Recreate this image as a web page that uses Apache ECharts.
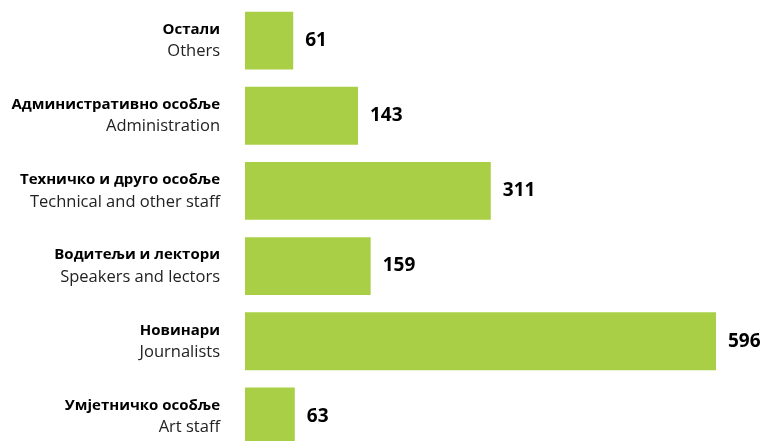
<!DOCTYPE html>
<html lang="sr">
<head>
    <meta charset="UTF-8">
    <title>Запослени</title>
    <script src="https://cdn.jsdelivr.net/npm/echarts@6/dist/echarts.min.js"></script>
    <style>
        html, body { margin: 0; padding: 0; background: #fff; }
        #container { width: 763px; height: 441px; }
    </style>
</head>
<body>
<div id="container"></div>
<script>
    // top to bottom
    var namesSr = ['Остали', 'Административно особље', 'Техничко и друго особље', 'Водитељи и лектори', 'Новинари', 'Умјетничко особље'];
    var namesEn = ['Others', 'Administration', 'Technical and other staff', 'Speakers and lectors', 'Journalists', 'Art staff'];
    var counts = [61, 143, 311, 159, 596, 63];

    var cats = namesSr.map(function (s, i) { return s + '\n' + namesEn[i]; });

    var myChart = echarts.init(document.getElementById('container'), null, { renderer: 'canvas' });

    var option = {
        animation: false,
        textStyle: { fontFamily: 'Open Sans' },
        grid: { left: 245, top: 3, width: 471, height: 451, containLabel: false, outerBoundsMode: 'none' },
        xAxis: {
            type: 'value',
            min: 0,
            max: 596,
            show: false
        },
        yAxis: {
            type: 'category',
            inverse: true,
            data: cats,
            axisLine: { show: false },
            axisTick: { show: false },
            axisLabel: {
                margin: 25,
                align: 'right',
                formatter: function (v) {
                    var p = v.split('\n');
                    return '{a|' + p[0] + '}\n{b|' + p[1] + '}';
                },
                rich: {
                    a: { fontFamily: 'Open Sans', fontWeight: 'bold', fontSize: 15, color: '#000', lineHeight: 22, align: 'right' },
                    b: { fontFamily: 'Open Sans', fontSize: 16.5, color: '#222', lineHeight: 22, align: 'right' }
                }
            }
        },
        series: [{
            type: 'bar',
            data: counts,
            barCategoryGap: '23%',
            itemStyle: { color: '#a9cf46' },
            label: {
                show: true,
                position: 'right',
                distance: 12,
                fontFamily: 'Open Sans',
                fontWeight: 'bold',
                fontSize: 19,
                color: '#000'
            }
        }]
    };

    myChart.setOption(option);
    window.addEventListener('resize', myChart.resize);
</script>
</body>
</html>
